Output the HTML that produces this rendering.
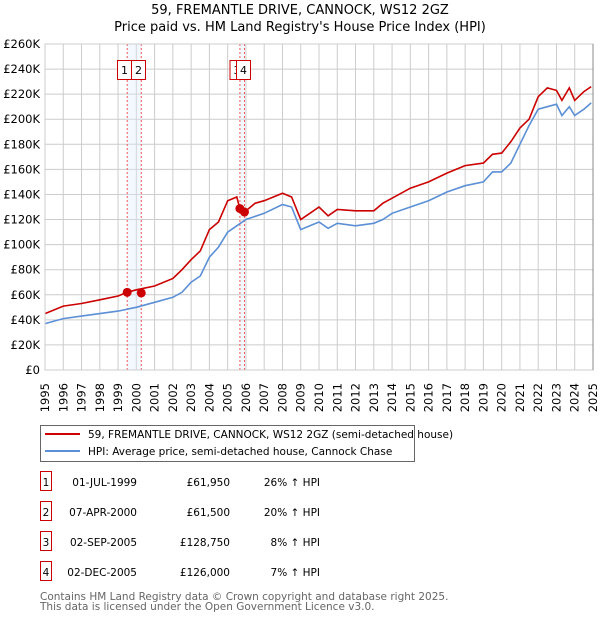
<!DOCTYPE html>
<html><head><meta charset="utf-8"><style>
body{margin:0;background:#fff;font-family:"DejaVu Sans","Liberation Sans",sans-serif;}
svg text{font-family:"DejaVu Sans","Liberation Sans",sans-serif;}
</style></head><body>
<svg id="c" width="600" height="620" xmlns="http://www.w3.org/2000/svg">
<text x="300" y="14" font-size="13" text-anchor="middle">59, FREMANTLE DRIVE, CANNOCK, WS12 2GZ</text>
<text x="300" y="31" font-size="13" text-anchor="middle">Price paid vs. HM Land Registry's House Price Index (HPI)</text>
<g id="grid"></g><g id="marks"></g><g id="axes"></g>
<g>
<rect x="40.5" y="425.5" width="374" height="36" fill="#fff" stroke="#666"/>
<line x1="45" y1="434" x2="80" y2="434" stroke="#cc0000" stroke-width="2"/>
<text x="88" y="438" font-size="10.5">59, FREMANTLE DRIVE, CANNOCK, WS12 2GZ (semi-detached house)</text>
<line x1="45" y1="451" x2="80" y2="451" stroke="#5b8fd6" stroke-width="2"/>
<text x="88" y="455" font-size="10.5">HPI: Average price, semi-detached house, Cannock Chase</text>
</g>
<g id="table" font-size="10.5"></g>
<text x="40" y="600" font-size="10.5" fill="#666">Contains HM Land Registry data © Crown copyright and database right 2025.</text>
<text x="40" y="610" font-size="10.5" fill="#666">This data is licensed under the Open Government Licence v3.0.</text>
</svg>
<script>
const yTicks=[0,20,40,60,80,100,120,140,160,180,200,220,240,260];
const years=[1995,1996,1997,1998,1999,2000,2001,2002,2003,2004,2005,2006,2007,2008,2009,2010,2011,2012,2013,2014,2015,2016,2017,2018,2019,2020,2021,2022,2023,2024,2025];
const hpiT=[1995,1996,1997,1998,1999,2000,2001,2002,2002.5,2003,2003.5,2004,2004.5,2005,2005.5,2006,2007,2008,2008.5,2009,2009.5,2010,2010.5,2011,2012,2013,2013.5,2014,2015,2016,2017,2018,2019,2019.5,2020,2020.5,2021,2021.5,2022,2022.5,2023,2023.3,2023.7,2024,2024.5,2024.9];
const hpiV=[37,41,43,45,47,50,54,58,62,70,75,90,98,110,115,120,125,132,130,112,115,118,113,117,115,117,120,125,130,135,142,147,150,158,158,165,180,195,208,210,212,203,210,203,208,213];
const propT=[1995,1996,1997,1998,1999,1999.5,2000,2001,2002,2002.5,2003,2003.5,2004,2004.5,2005,2005.5,2005.67,2005.92,2006.5,2007,2008,2008.5,2009,2009.5,2010,2010.5,2011,2012,2013,2013.5,2014,2015,2016,2017,2018,2019,2019.5,2020,2020.5,2021,2021.5,2022,2022.5,2023,2023.3,2023.7,2024,2024.5,2024.9];
const propV=[45,51,53,56,59,62,64,67,73,80,88,95,112,118,135,138,128.75,126,133,135,141,138,120,125,130,123,128,127,127,133,137,145,150,157,163,165,172,173,182,193,200,218,225,223,215,225,215,222,226];
const saleLabels=["1","2","3","4"];
const saleT=[1999.5,2000.27,2005.67,2005.92];
const saleV=[61.95,61.5,128.75,126];
const saleDates=["01-JUL-1999","07-APR-2000","02-SEP-2005","02-DEC-2005"];
const salePrices=["£61,950","£61,500","£128,750","£126,000"];
const saleHpi=["26% ↑ HPI","20% ↑ HPI","8% ↑ HPI","7% ↑ HPI"];
const NS="http://www.w3.org/2000/svg";
const X=t=>45+(t-1995)*(548/30), Y=v=>370-v*(326/260);
function mk(tag,attrs,parent){const e=document.createElementNS(NS,tag);for(const k in attrs)e.setAttribute(k,attrs[k]);parent.appendChild(e);return e;}
const grid=document.getElementById('grid'),marks=document.getElementById('marks'),axes=document.getElementById('axes'),table=document.getElementById('table');
yTicks.forEach(v=>{
 const l=mk('line',{x1:45,x2:593,y1:Y(v),y2:Y(v),stroke:'#ccc'},grid);
 
 
 const t=mk('text',{x:40,y:Y(v)+4,'font-size':11.5,'text-anchor':'end'},axes);
 t.textContent=v===0?'£0':'£'+v+'K';
 
 
});
years.forEach(y=>{
 const l=mk('line',{x1:X(y),x2:X(y),y1:44,y2:370,stroke:'#ccc'},grid);
 
 
 const t=mk('text',{x:0,y:0,'font-size':11.5,'text-anchor':'end',transform:`translate(${X(y)+4},383) rotate(-90)`},axes);
 t.textContent=y;
 
 
});
[[0,1],[2,3]].forEach(p=>{
 const r=mk('rect',{x:X(saleT[p[0]]),y:44,width:X(saleT[p[1]])-X(saleT[p[0]]),height:326,fill:'#dde8fb',opacity:0.35},grid);
 
 
});
saleT.forEach((t,i)=>{
 const l=mk('line',{x1:X(t),x2:X(t),y1:44,y2:370,stroke:'#e55','stroke-dasharray':'2,2'},grid);
 
 
});
function path(T,V,col,name){
 const d=T.map((t,i)=>(i?'L':'M')+X(t).toFixed(1)+','+Y(V[i]).toFixed(1)).join('');
 const p=mk('path',{d:d,fill:'none',stroke:col,'stroke-width':1.6},marks);
 
 
}
path(hpiT,hpiV,'#5b8fd6','hpi-line');
path(propT,propV,'#cc0000','property-line');
saleT.forEach((t,i)=>{
 const c=mk('circle',{cx:X(t),cy:Y(saleV[i]),r:4.5,fill:'#cc0000'},marks);
 
 
});
// top labels
const boxX=[117.5,131.5,230,236.5];
saleLabels.forEach((s,i)=>{
 const g=mk('g',{},marks);
 
 
 mk('rect',{x:boxX[i],y:60.5,width:14,height:19,fill:'#fff',stroke:'#cc0000'},g);
 const t=mk('text',{x:boxX[i]+7,y:74,'font-size':11,'text-anchor':'middle'},g);t.textContent=s;
});
mk('rect',{x:45,y:44,width:548,height:326,fill:'none',stroke:'#ccc'},axes);
mk('line',{x1:593,x2:593,y1:44,y2:370,stroke:'#888'},axes);
saleLabels.forEach((s,i)=>{
 const y=483+i*30;
 const g=mk('g',{},table);
 
 
 mk('rect',{x:40.5,y:y-11.5,width:11,height:19,fill:'#fff',stroke:'#cc0000'},g);
 let t=mk('text',{x:46,y:y+3,'text-anchor':'middle'},g);t.textContent=s;
 t=mk('text',{x:137,y:y+3,'text-anchor':'end'},g);t.textContent=saleDates[i];
 t=mk('text',{x:230,y:y+3,'text-anchor':'end'},g);t.textContent=salePrices[i];
 t=mk('text',{x:320,y:y+3,'text-anchor':'end'},g);t.textContent=saleHpi[i];
});
</script>
</body></html>
